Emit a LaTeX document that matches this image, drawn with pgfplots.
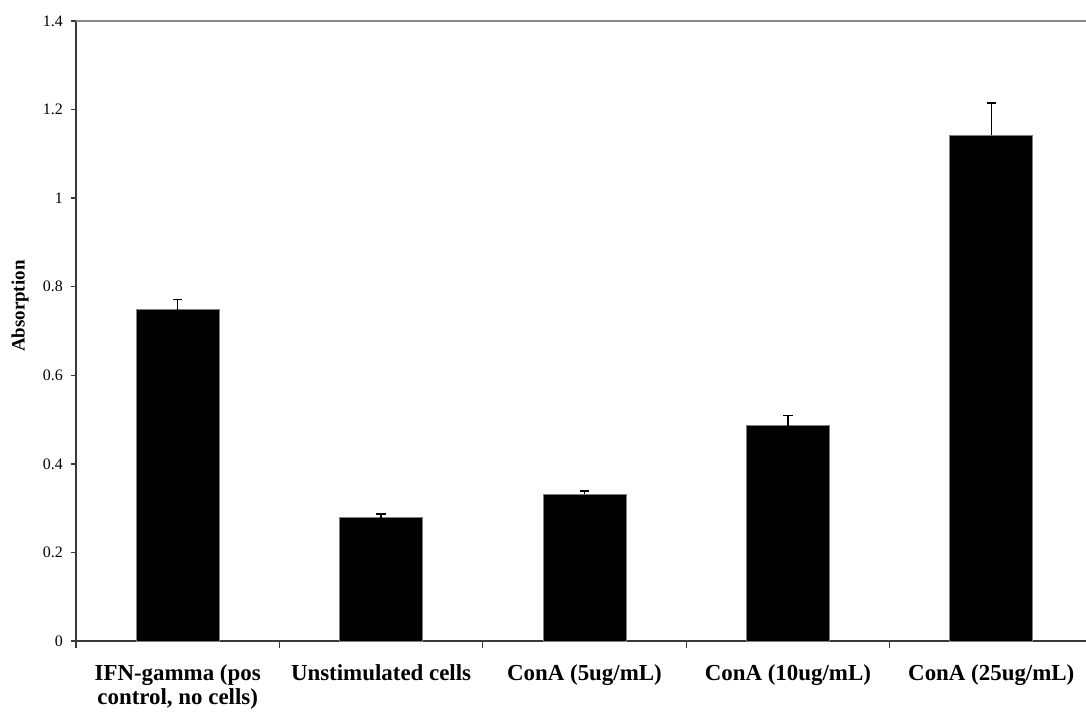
\documentclass[border=0pt]{standalone}
\usepackage{pgfplots}
\pgfplotsset{compat=1.18}
\usepackage{fontspec}
\setmainfont{Liberation Serif}
\definecolor{axisgray}{HTML}{3A3A3A}
\definecolor{framegray}{HTML}{8A8A8A}
\begin{document}
\begin{tikzpicture}
\begin{axis}[
    scale only axis,
    width=1017bp, height=620bp,
    xmin=-0.5, xmax=4.5,
    ymin=0, ymax=1.4,
    axis x line*=bottom,
    axis y line*=left,
    axis line style={axisgray, line width=1.3bp},
    tick align=outside,
    ytick={0,0.2,0.4,0.6,0.8,1,1.2,1.4},
    xtick={0,1,2,3,4},
    xticklabels={{\strut IFN-gamma (pos\\control, no cells)},{\strut Unstimulated cells},{\strut ConA (5ug/mL)},{\strut ConA (10ug/mL)},{\strut ConA (25ug/mL)}},
    minor xtick={-0.5,0.5,1.5,2.5,3.5,4.5},
    major tick length=5bp,
    minor tick length=7bp,
    major x tick style={draw=none},
    ytick style={axisgray, line width=1.3bp},
    minor x tick style={axisgray, line width=1.3bp},
    /pgf/number format/assume math mode=true,
    yticklabel style={font=\fontsize{16}{19}\selectfont, inner sep=0pt, xshift=-8bp},
    xticklabel style={font=\bfseries\fontsize{23}{24}\selectfont, align=center, anchor=north, inner sep=0pt},
    xticklabel shift=18bp,
    ylabel={Absorption},
    ylabel style={font=\bfseries\fontsize{19}{22}\selectfont, at={(axis description cs:-0.055,0.54)}, anchor=center},
]
\coordinate (O) at (rel axis cs:0,0);
\draw[framegray, line width=1.3bp] (rel axis cs:0,1) -- (rel axis cs:1,1);
\addplot[ybar, bar width=83bp, fill=black, draw=gray, line width=0.8bp,
    error bars/.cd, y dir=plus, y explicit,
    error bar style={black, line width=1.4bp},
    error mark options={rotate=90, mark size=4.7bp, line width=1.4bp, black}]
coordinates {
    (0, 0.748) +- (0, 0.023)
    (1, 0.278) +- (0, 0.009)
    (2, 0.331) +- (0, 0.008)
    (3, 0.486) +- (0, 0.023)
    (4, 1.142) +- (0, 0.073)
};
\end{axis}
\pgfresetboundingbox
\path[use as bounding box] ([shift={(-76bp,-71bp)}]O) rectangle ++(1086bp,712bp);
\end{tikzpicture}
\end{document}
